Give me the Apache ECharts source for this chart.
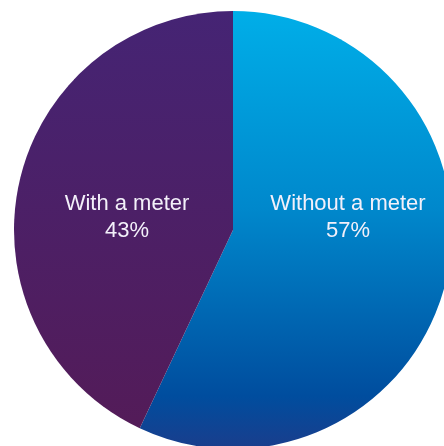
<!DOCTYPE html>
<html>
<head>
<meta charset="utf-8">
<script src="https://cdn.jsdelivr.net/npm/echarts@6/dist/echarts.min.js"></script>
<style>html,body{margin:0;padding:0;background:#fff;}#c{width:444px;height:446px;}</style>
</head>
<body>
<div id="c"></div>
<script>
const categories = ["Without a meter", "With a meter"];
const values = [57, 43];
const labelText = ["Without a meter\n57%", "With a meter\n43%"];

const cx = 233, cy = 230, R = 219;
const gradients = [
  {type:'linear', global:true, x:0, y:cy-R, x2:0, y2:cy+R,
   colorStops:[{offset:0,color:'#00aee8'},{offset:0.45,color:'#0088cc'},{offset:0.88,color:'#004d9e'},{offset:1,color:'#1a3d8c'}]},
  {type:'linear', global:true, x:0, y:cy-R, x2:0, y2:cy+R,
   colorStops:[{offset:0,color:'#452474'},{offset:1,color:'#541b57'}]}
];
const labelPos = [[348, 217], [127, 217]];

const chart = echarts.init(document.getElementById('c'), null, {renderer:'canvas'});
chart.setOption({
  animation:false,
  series:[{
    type:'pie',
    center:[cx, cy],
    radius:[0, R],
    startAngle:90,
    clockwise:true,
    silent:true,
    itemStyle:{borderWidth:0},
    label:{
      show:true, position:'inside',
      formatter:(p)=>labelText[p.dataIndex],
      color:'#f3f0fa', fontFamily:'Liberation Sans', fontSize:22, lineHeight:27, align:'center'
    },
    labelLayout:(p)=>({x:labelPos[p.dataIndex][0], y:labelPos[p.dataIndex][1], align:'center', verticalAlign:'middle'}),
    data: categories.map((n,i)=>({name:n, value:values[i], itemStyle:{color:gradients[i]}}))
  }]
});
</script>
</body>
</html>
